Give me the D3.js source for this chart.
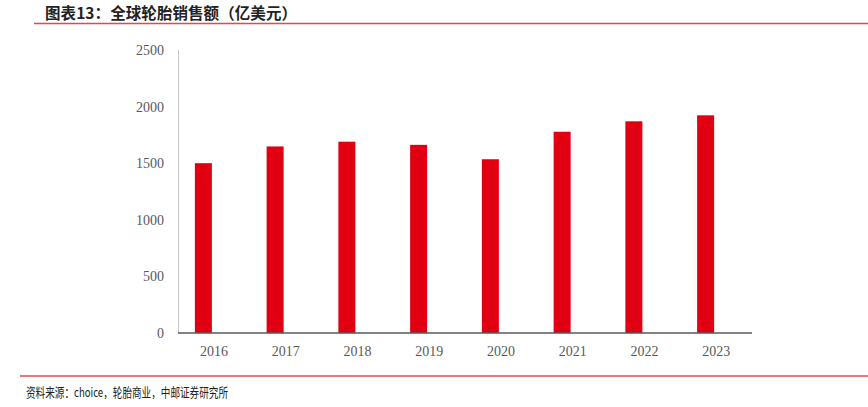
<!DOCTYPE html>
<html><head><meta charset="utf-8">
<script src="https://cdn.jsdelivr.net/npm/d3@7"></script>
<style>body{margin:0;background:#fff;}svg{display:block;}</style>
</head><body>
<svg id="c" width="868" height="407"></svg>
<script>
const categories = ["2016","2017","2018","2019","2020","2021","2022","2023"];
const salesValues = [1500, 1648, 1690, 1662, 1535, 1778, 1870, 1923];
const yTicks = [0, 500, 1000, 1500, 2000, 2500];
const titleText = "图表13：全球轮胎销售额（亿美元）";
const sourceText = "资料来源：choice，轮胎商业，中邮证券研究所";

const svg = d3.select("#c");
const plotLeft = 178, plotRight = 752, plotTop = 50, plotBottom = 333;

const x = d3.scaleBand().domain(categories).range([plotLeft, plotRight]).padding(0);
const y = d3.scaleLinear().domain([0, 2500]).range([plotBottom, plotTop]);

// title
svg.append("text").attr("x", 45).attr("y", 19)
  .attr("font-family", "'Noto Sans CJK SC', sans-serif").attr("font-size", 15.5).attr("font-weight", "bold")
  .attr("textLength", 252).attr("lengthAdjust", "spacing")
  .attr("fill", "#222").text(titleText);
svg.append("line").attr("x1", 34).attr("x2", 868).attr("y1", 23.5).attr("y2", 23.5)
  .attr("stroke", "#e04a4a").attr("stroke-width", 1.5);

// y axis
svg.append("line").attr("x1", plotLeft + 0.5).attr("x2", plotLeft + 0.5).attr("y1", plotTop).attr("y2", plotBottom)
  .attr("stroke", "#c8c8c8").attr("stroke-width", 1);
svg.append("g").selectAll("text").data(yTicks).join("text")
  .attr("x", 164).attr("y", d => y(d)).attr("dy", "0.35em").attr("text-anchor", "end")
  .attr("font-family", "'Liberation Serif', serif").attr("font-size", 14).attr("fill", "#595959")
  .text(d => d);

// bars
const barW = 17;
svg.append("g").selectAll("rect").data(salesValues).join("rect")
  .attr("x", (d, i) => x(categories[i]) + x.bandwidth() / 2 - 19)
  .attr("width", barW)
  .attr("y", d => y(d)).attr("height", d => y(0) - y(d))
  .attr("fill", "#e00012");

// x axis
svg.append("line").attr("x1", plotLeft).attr("x2", plotRight).attr("y1", plotBottom).attr("y2", plotBottom)
  .attr("stroke", "#595959").attr("stroke-width", 1.5);
svg.append("g").selectAll("text").data(categories).join("text")
  .attr("x", d => x(d) + x.bandwidth() / 2).attr("y", 356).attr("text-anchor", "middle")
  .attr("font-family", "'Liberation Serif', serif").attr("font-size", 14).attr("fill", "#595959")
  .text(d => d);

// footer
svg.append("line").attr("x1", 20).attr("x2", 868).attr("y1", 376).attr("y2", 376)
  .attr("stroke", "#e04a4a").attr("stroke-width", 1.5);
svg.append("text").attr("x", 26).attr("y", 397)
  .attr("font-family", "'Noto Sans CJK SC', sans-serif").attr("font-size", 13)
  .attr("textLength", 202).attr("lengthAdjust", "spacingAndGlyphs")
  .attr("fill", "#222").text(sourceText);
</script>
</body></html>
